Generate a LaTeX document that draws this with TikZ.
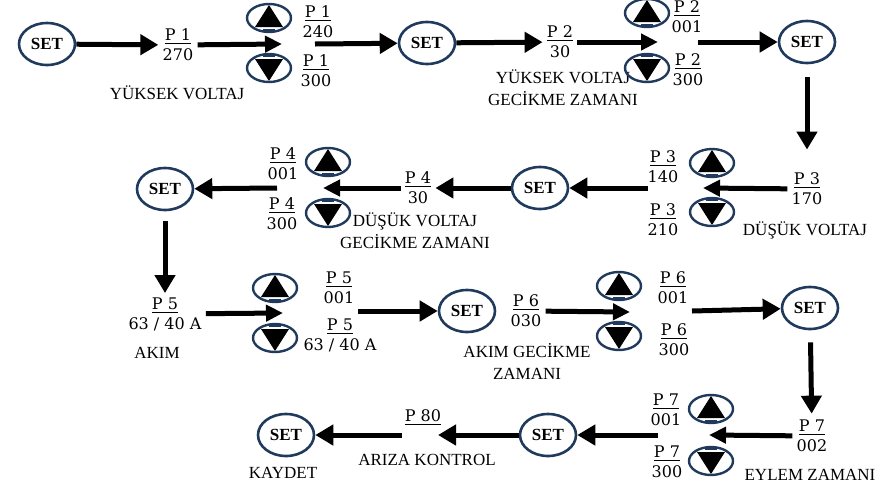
\documentclass[tikz,border=0pt]{standalone}
\usepackage{fontspec}
\setmainfont{Liberation Serif}
\newfontfamily\numfont{DejaVu Serif}
\usepackage{tikz}
\usetikzlibrary{shapes,arrows.meta}
\usepackage{xcolor}
\definecolor{keyblue}{HTML}{1F3A5C}

\newcommand{\pv}[2]{\underline{#1}\\#2}

\begin{document}
\begin{tikzpicture}[x=0.5pt, y=-0.5pt,
  set node/.style={ellipse, draw=keyblue, line width=1.3pt, minimum width=28pt, minimum height=21pt, inner sep=0pt, font=\bfseries\fontsize{8.5}{10}\selectfont},
  key node/.style={ellipse, draw=keyblue, line width=1.2pt, minimum width=22pt, minimum height=14pt, inner sep=0pt},
  up node/.style={key node, path picture={
    \fill (path picture bounding box.center) ++(0,-13) -- ++(-14,22) -- ++(28,0) -- cycle;
    \draw[keyblue, line width=0.6pt] (path picture bounding box.center) ++(-6,12) -- ++(12,0);}},
  down node/.style={key node, path picture={
    \fill (path picture bounding box.center) ++(0,13) -- ++(-14,-22) -- ++(28,0) -- cycle;
    \draw[keyblue, line width=0.6pt] (path picture bounding box.center) ++(-6,-12) -- ++(12,0);}},
  par node/.style={align=center, inner sep=2pt, font=\numfont\fontsize{8}{10}\selectfont},
  text node/.style={align=center, inner sep=1pt, font=\fontsize{8.5}{11}\selectfont},
  arr/.style={line width=2.5pt, -{Triangle[length=9pt,width=10pt]}},
  gap arr/.style={-{Triangle[length=8.5pt,width=8pt]}}]
\useasboundingbox (0,0) rectangle (895,483);
% row 1
\node[set node] (s1) at (47,44) {SET};
\node[par node] (p1) at (178,45) {\pv{P 1}{270}};
\node[text node] (l1) at (177,93) {YÜKSEK VOLTAJ};
\node[up node] (u1) at (269,18) {};
\node[down node] (d1) at (269,68) {};
\coordinate (k1) at (282,44);
\coordinate (k1o) at (315,44);
\node[par node] (p1u) at (318,22) {\pv{P 1}{240}};
\node[par node] (p1d) at (316,71) {\pv{P 1}{300}};
\node[set node] (s2) at (427,43) {SET};
\node[par node] (p2) at (560,42) {\pv{P 2}{30}};
\node[text node] (l2) at (563,88) {YÜKSEK VOLTAJ\\GECİKME ZAMANI};
\node[up node] (u2) at (647,13) {};
\node[down node] (d2) at (647,68) {};
\coordinate (k2) at (658,42);
\coordinate (k2o) at (698,42);
\node[par node] (p2u) at (687,17) {\pv{P 2}{001}};
\node[par node] (p2d) at (688,70) {\pv{P 2}{300}};
\node[set node] (s3) at (807,42) {SET};
% row 2
\node[par node] (p3) at (807,189) {\pv{P 3}{170}};
\node[text node] (l3) at (805,230) {DÜŞÜK VOLTAJ};
\node[up node] (u3) at (712,163) {};
\node[down node] (d3) at (712,212) {};
\coordinate (k3) at (703,188);
\coordinate (k3o) at (648,188);
\node[par node] (p3u) at (663,167) {\pv{P 3}{140}};
\node[par node] (p3d) at (663,220) {\pv{P 3}{210}};
\node[set node] (s4) at (540,188) {SET};
\node[par node] (p4) at (418,188) {\pv{P 4}{30}};
\node[text node] (l4) at (415,231) {DÜŞÜK VOLTAJ\\GECİKME ZAMANI};
\node[up node] (u4) at (328,162) {};
\node[down node] (d4) at (328,213) {};
\coordinate (k4) at (323,188);
\coordinate (k4o) at (277,188);
\node[par node] (p4u) at (283,164) {\pv{P 4}{001}};
\node[par node] (p4d) at (282,214) {\pv{P 4}{300}};
\node[set node] (s5) at (165,189) {SET};
% row 3
\node[par node] (p5) at (165,314) {\pv{P 5}{63 / 40 A}};
\node[text node] (l5) at (157,353) {AKIM};
\node[up node] (u5) at (275,288) {};
\node[down node] (d5) at (275,338) {};
\coordinate (k5) at (283,313);
\coordinate (k5o) at (358,311);
\node[par node] (p5u) at (339,288) {\pv{P 5}{001}};
\node[par node] (p5d) at (340,335) {\pv{P 5}{63 / 40 A}};
\node[set node] (s6) at (467,311) {SET};
\node[par node] (p6) at (526,311) {\pv{P 6}{030}};
\node[text node] (l6) at (527,361) {AKIM GECİKME\\ZAMANI};
\node[up node] (u6) at (619,286) {};
\node[down node] (d6) at (619,336) {};
\coordinate (k6) at (630,312);
\coordinate (k6o) at (692,311);
\node[par node] (p6u) at (673,288) {\pv{P 6}{001}};
\node[par node] (p6d) at (674,340) {\pv{P 6}{300}};
\node[set node] (s7) at (810,308) {SET};
% row 4
\node[par node] (p7) at (812,436) {\pv{P 7}{002}};
\node[text node] (l7) at (810,475) {EYLEM ZAMANI};
\node[up node] (u7) at (711,409) {};
\node[down node] (d7) at (711,461) {};
\coordinate (k7) at (709,435);
\coordinate (k7o) at (658,435);
\node[par node] (p7u) at (666,410) {\pv{P 7}{001}};
\node[par node] (p7d) at (667,462) {\pv{P 7}{300}};
\node[set node] (s8) at (548,435) {SET};
\node[par node] (p80) at (423,418) {\underline{P 80}};
\node[text node] (l8) at (427,460) {ARIZA KONTROL};
\coordinate (k8) at (438,435);
\coordinate (k8o) at (402,435);
\node[set node] (s9) at (286,435) {SET};
\node[text node] (l9) at (283,473) {KAYDET};
\path[arr]
(s1) edge (p1)
(p1) edge[gap arr] (k1)
(k1o) edge (s2)
(s2) edge (p2)
(p2) edge[gap arr] (k2)
(k2o) edge (s3)
(s3) edge[shorten <=6.5pt, shorten >=9.5pt] (p3)
(p3) edge[gap arr] (k3)
(k3o) edge (s4)
(s4) edge (p4)
(p4) edge[gap arr] (k4)
(k4o) edge (s5)
(s5) edge[shorten <=5pt] (p5)
(p5) edge[gap arr] (k5)
(k5o) edge (s6)
(p6) edge[gap arr] (k6)
(k6o) edge (s7)
(s7) edge[shorten <=6pt, shorten >=1pt] (p7)
(p7) edge[gap arr] (k7)
(k7o) edge (s8)
(s8) edge (k8)
(k8o) edge (s9);
\end{tikzpicture}
\end{document}
